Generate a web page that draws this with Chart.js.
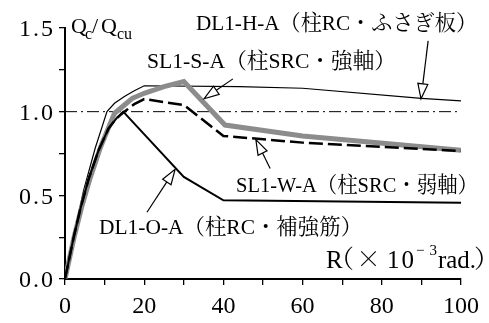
<!DOCTYPE html>
<html>
<head>
<meta charset="utf-8">
<script src="https://cdn.jsdelivr.net/npm/chart.js@4"></script>
<style>
  html, body { margin: 0; padding: 0; background: #fff; }
  canvas { display: block; }
</style>
</head>
<body>
<canvas id="chart" width="489" height="323"></canvas>
<script>
// R (x10^-3 rad.) and Qc/Qcu
const hR = [0, 2.4, 4.7, 7.6, 10.6, 12.5, 15, 17.5, 20, 44, 60, 90, 100];
const hQ = [0, 0.28, 0.53, 0.78, 1.0, 1.05, 1.09, 1.125, 1.155, 1.15, 1.14, 1.08, 1.065];

const sR = [0, 2.3, 4.2, 6.3, 9, 12.5, 15, 17, 20, 22, 25, 30, 40.4, 60, 100];
const sQ = [0, 0.25, 0.43, 0.6, 0.79, 0.99, 1.04, 1.08, 1.11, 1.125, 1.15, 1.18, 0.92, 0.855, 0.77];

const wR = [0, 2.2, 4, 6, 8.5, 11, 13, 15, 17.5, 20, 30, 40, 60, 100];
const wQ = [0, 0.25, 0.43, 0.6, 0.77, 0.9, 0.96, 1.0, 1.045, 1.075, 1.04, 0.855, 0.815, 0.765];

const oR = [0, 2.2, 4, 6, 8.5, 11, 13, 14.7, 30, 40, 100];
const oQ = [0, 0.25, 0.43, 0.6, 0.77, 0.9, 0.96, 1.0, 0.61, 0.47, 0.455];

const refR = [0, 100];
const refQ = [1, 1];

const xTickValues = [0, 20, 40, 60, 80, 100];
const xTickLabels = ["0", "20", "40", "60", "80", "100"];
const yTickValues = [0, 0.5, 1.0, 1.5];
const yTickLabels = ["0.0", "0.5", "1.0", "1.5"];

const seriesNames = ["DL1-H-A（柱RC・ふさぎ板）", "SL1-S-A（柱SRC・強軸）", "SL1-W-A（柱SRC・弱軸）", "DL1-O-A（柱RC・補強筋）"];

// label placement (left edge R, middle Q, width px) and arrows (tail -> tip, data coords)
const notes = [
  { r: 33.1, q: 1.524, w: 281 },
  { r: 20.7, q: 1.298, w: 249 },
  { r: 43.2, q: 0.554, w: 242 },
  { r: 8.6, q: 0.304, w: 263 },
];
const arrows = [
  [91.7, 1.423, 89.9, 1.077],
  [42.4, 1.196, 35.1, 1.077],
  [51.8, 0.661, 48.2, 0.833],
  [20.7, 0.399, 27.8, 0.655],
];

const FONT = '"Liberation Serif", "Noto Serif CJK JP", "Noto Sans CJK JP", serif';
const CJK_FONT = '"Noto Serif CJK JP", "Noto Sans CJK JP", serif';

function pts(rs, qs) {
  return rs.map((r, i) => ({ x: r, y: qs[i] }));
}

function drawFit(ctx, str, x, y, size, width, align, family) {
  ctx.font = size + "px " + (family || FONT);
  ctx.textAlign = "left";
  const w = ctx.measureText(str).width;
  if (!width) width = w;
  let left = x;
  if (align === "center") left = x - width / 2;
  else if (align === "right") left = x - width;
  if (w >= width) {
    ctx.save();
    ctx.translate(left, y);
    ctx.scale(width / w, 1);
    ctx.fillText(str, 0, 0);
    ctx.restore();
  } else {
    const chars = [...str];
    const gap = chars.length > 1 ? (width - w) / (chars.length - 1) : 0;
    let cx = left;
    chars.forEach((ch) => {
      ctx.fillText(ch, cx, y);
      cx += ctx.measureText(ch).width + gap;
    });
  }
}

function drawArrow(ctx, x0, y0, x1, y1) {
  const a = Math.atan2(y1 - y0, x1 - x0);
  const len = 15, half = 5;
  const bx = x1 - len * Math.cos(a), by = y1 - len * Math.sin(a);
  ctx.beginPath();
  ctx.moveTo(x0, y0);
  ctx.lineTo(bx, by);
  ctx.stroke();
  ctx.beginPath();
  ctx.moveTo(x1, y1);
  ctx.lineTo(bx - half * Math.sin(a), by + half * Math.cos(a));
  ctx.lineTo(bx + half * Math.sin(a), by - half * Math.cos(a));
  ctx.closePath();
  ctx.fillStyle = "#fff";
  ctx.fill();
  ctx.stroke();
}

const textPlugin = {
  id: "texts",
  afterDraw(chart) {
    const { ctx, scales: { x, y } } = chart;
    ctx.save();
    ctx.fillStyle = "#000";
    ctx.textBaseline = "middle";

    // tick labels
    xTickValues.forEach((v, i) => {
      drawFit(ctx, xTickLabels[i], x.getPixelForValue(v), chart.chartArea.bottom + 28, 24, null, "center");
    });
    yTickValues.forEach((v, i) => {
      drawFit(ctx, yTickLabels[i], 53, y.getPixelForValue(v) + 2, 24, 34, "right");
    });

    // axis titles
    ctx.textBaseline = "alphabetic";
    drawFit(ctx, "Q", 71, 33, 22);
    drawFit(ctx, "c", 85, 39, 16);
    drawFit(ctx, "/", 92, 33, 22);
    drawFit(ctx, "Q", 101, 33, 22);
    drawFit(ctx, "cu", 117, 39, 16);

    drawFit(ctx, "R", 326, 268, 25);
    drawFit(ctx, "（", 329, 268, 25, null, null, CJK_FONT);
    drawFit(ctx, "×", 356, 268, 25, 26, null, CJK_FONT);
    drawFit(ctx, "10", 387, 268, 25, 27);
    drawFit(ctx, "−3", 416, 255, 15, 21);
    drawFit(ctx, "rad.", 438, 268, 25, 38);
    drawFit(ctx, "）", 474, 268, 25, null, null, CJK_FONT);

    // series labels
    ctx.textBaseline = "middle";
    notes.forEach((n, i) => {
      drawFit(ctx, seriesNames[i], x.getPixelForValue(n.r), y.getPixelForValue(n.q), 22, n.w);
    });

    ctx.strokeStyle = "#000";
    ctx.lineWidth = 1.2;
    arrows.forEach(([r0, q0, r1, q1]) => {
      drawArrow(ctx, x.getPixelForValue(r0), y.getPixelForValue(q0), x.getPixelForValue(r1), y.getPixelForValue(q1));
    });
    ctx.restore();
  },
};

const axisStyle = {
  grid: { drawOnChartArea: false, drawTicks: true, tickLength: 6, color: "#000", lineWidth: 1.3 },
  border: { display: true, color: "#000", width: 2 },
};

new Chart(document.getElementById("chart"), {
  type: "line",
  data: {
    datasets: [
      { label: "Qc/Qcu=1.0", data: pts(refR, refQ), borderColor: "#000", borderWidth: 1, borderDash: [12, 4, 2, 4], order: 5 },
      { label: seriesNames[0], data: pts(hR, hQ), borderColor: "#000", borderWidth: 1.2, order: 4 },
      { label: seriesNames[1], data: pts(sR, sQ), borderColor: "#8c8c8c", borderWidth: 5, order: 3 },
      { label: seriesNames[2], data: pts(wR, wQ), borderColor: "#000", borderWidth: 2.5, borderDash: [14, 5], order: 2 },
      { label: seriesNames[3], data: pts(oR, oQ), borderColor: "#000", borderWidth: 2, order: 1 },
    ],
  },
  options: {
    responsive: false,
    animation: false,
    devicePixelRatio: 1,
    layout: { padding: { left: 59, right: 28, top: 28, bottom: 38 } },
    elements: { point: { radius: 0 }, line: { tension: 0, fill: false } },
    plugins: { legend: { display: false }, tooltip: { enabled: false } },
    scales: {
      x: {
        type: "linear",
        min: 0,
        max: 100,
        ticks: { display: false, stepSize: 10 },
        ...axisStyle,
      },
      y: {
        type: "linear",
        min: 0,
        max: 1.5,
        ticks: { display: false, stepSize: 0.25 },
        ...axisStyle,
      },
    },
  },
  plugins: [textPlugin],
});
</script>
</body>
</html>
